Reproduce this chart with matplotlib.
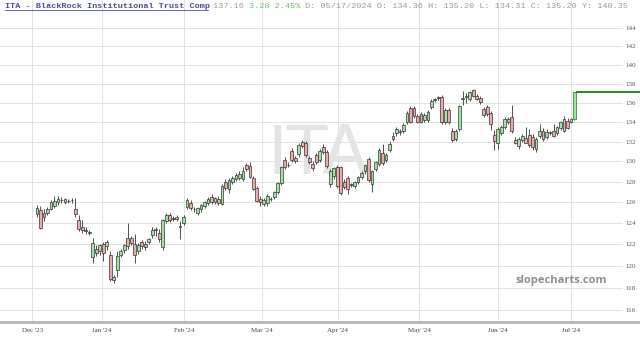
import matplotlib
matplotlib.use("Agg")
import matplotlib.pyplot as plt
from matplotlib.lines import Line2D
from matplotlib.ticker import FixedLocator, FixedFormatter, NullLocator

# daily OHLC (Dec '23 - Jul '24)
opens = [124.9, 125.2, 125.0, 125.0, 125.3, 125.6, 126.0, 126.2, 126.3, 126.1, 126.2, 125.3, 124.3, 123.6,
         123.3, 123.1, 120.8, 121.6, 121.4, 122.0, 121.8, 121.0, 118.7, 119.6, 121.0, 121.5, 122.6, 122.6,
         122.0, 121.4, 122.2, 122.0, 122.2, 122.9,
         123.3, 123.1, 121.7, 124.2, 124.8, 124.5, 124.4, 123.7, 124.0, 125.5, 125.9, 125.3, 125.0, 125.3,
         125.6, 125.9, 126.5, 126.0, 126.3, 125.8, 128.0, 127.3, 128.0, 128.3, 128.4, 128.3, 129.6, 129.5,
         128.4, 127.4, 126.3, 125.8, 125.9, 126.3, 126.5, 127.0, 127.9, 130.1, 129.6, 131.0, 130.3, 130.7,
         132.0, 131.8, 130.3, 129.7, 130.6, 130.1, 131.4, 130.9, 127.8, 128.6, 129.4, 129.4, 128.0, 128.4,
         127.7, 127.6, 128.0, 128.5, 129.0, 130.2, 127.8, 129.2, 129.7, 130.8, 130.1, 131.1, 132.6, 132.9,
         133.0, 133.1, 134.0, 135.4, 135.4, 134.6, 134.8, 134.2, 134.2, 135.5, 136.3, 136.5, 136.6, 134.0,
         135.2, 133.1, 132.3, 133.3, 136.4, 136.6, 136.4, 137.3, 136.7, 136.5, 135.3, 135.5, 134.9, 132.7,
         131.8, 132.9, 133.5, 134.3, 134.5, 132.2, 131.5, 132.2, 132.4, 132.7, 132.5, 131.2, 132.6, 133.1,
         132.5, 132.9, 133.1, 132.9, 133.4, 134.3, 134.1, 134.0, 134.3]
highs = [125.7, 125.6, 125.3, 125.5, 126.2, 126.6, 126.6, 126.5, 126.4, 126.3, 126.4, 126.4, 124.8, 124.3,
         123.6, 123.3, 122.6, 121.9, 122.0, 122.2, 122.4, 121.4, 119.2, 121.4, 121.6, 122.0, 124.0, 122.8,
         123.0, 122.1, 122.4, 122.3, 122.6, 123.6,
         123.6, 123.4, 124.4, 125.0, 125.0, 124.7, 124.8, 124.2, 124.8, 126.4, 126.2, 125.5, 125.5, 125.8,
         126.1, 126.5, 126.8, 126.5, 126.6, 127.8, 128.3, 128.4, 128.6, 128.9, 129.0, 129.4, 129.8, 129.9,
         128.6, 127.6, 126.6, 126.4, 126.8, 126.5, 127.1, 128.0, 129.5, 130.4, 129.9, 131.3, 130.5, 131.8,
         132.2, 132.1, 130.5, 130.0, 130.8, 131.2, 131.7, 131.1, 129.2, 129.4, 129.6, 129.5, 128.3, 128.6,
         127.9, 128.1, 128.6, 129.0, 129.7, 130.4, 129.1, 130.0, 131.3, 131.7, 130.8, 132.1, 133.0, 133.5,
         133.3, 133.9, 135.1, 135.6, 135.6, 134.8, 135.0, 134.9, 135.2, 136.4, 136.5, 136.7, 136.8, 135.4,
         135.4, 133.4, 133.3, 135.8, 137.2, 137.0, 137.2, 137.4, 136.9, 136.7, 135.5, 135.7, 135.1, 133.2,
         133.5, 133.7, 134.5, 134.5, 135.7, 132.5, 132.5, 132.8, 133.5, 133.3, 132.8, 132.5, 133.8, 133.4,
         133.3, 133.1, 133.8, 133.6, 134.1, 134.6, 134.4, 134.4, 137.16]
lows = [124.6, 123.4, 124.2, 124.8, 125.2, 125.4, 125.7, 125.9, 125.8, 125.9, 125.9, 124.6, 123.2, 123.1,
        123.0, 122.9, 120.3, 120.9, 121.0, 120.4, 121.5, 118.6, 118.4, 119.0, 120.8, 121.2, 121.6, 121.9,
        120.3, 121.1, 121.6, 121.5, 122.0, 122.6,
        122.8, 122.2, 121.5, 124.0, 124.1, 124.2, 124.2, 122.5, 123.8, 125.3, 125.2, 125.1, 124.8, 125.1,
        125.4, 125.7, 125.8, 125.8, 125.7, 125.7, 127.2, 126.9, 127.8, 128.1, 128.2, 128.1, 129.0, 128.4,
        127.2, 126.0, 125.6, 125.6, 125.6, 126.1, 126.3, 126.8, 127.7, 129.2, 129.4, 129.9, 129.8, 130.4,
        131.3, 130.4, 129.7, 129.0, 129.7, 129.9, 130.7, 129.3, 127.5, 128.3, 127.4, 126.7, 127.3, 126.8,
        127.5, 127.4, 127.8, 128.3, 128.8, 128.0, 127.0, 129.0, 129.5, 129.6, 129.9, 130.9, 132.1, 132.6,
        132.7, 132.9, 133.8, 133.9, 134.4, 133.9, 133.9, 134.0, 134.0, 135.3, 136.1, 136.3, 133.8, 133.8,
        133.8, 132.0, 132.1, 133.1, 135.8, 136.0, 136.2, 136.6, 136.3, 135.9, 134.5, 134.6, 133.2, 131.1,
        131.2, 132.7, 133.3, 133.8, 132.9, 131.7, 131.2, 132.0, 131.8, 131.4, 131.1, 130.9, 132.4, 132.1,
        132.3, 132.7, 132.5, 132.7, 133.2, 133.0, 133.3, 133.9, 134.2]
closes = [125.4, 123.5, 124.6, 125.3, 126.0, 126.1, 126.3, 126.2, 126.0, 126.15, 126.2, 124.9, 123.4, 123.3,
          123.25, 123.1, 122.1, 121.2, 121.9, 121.2, 122.2, 118.8, 119.0, 120.9, 121.4, 121.9, 121.8, 122.1,
          121.0, 121.9, 121.8, 121.7, 122.5, 123.3,
          123.4, 122.5, 124.3, 124.8, 124.3, 124.4, 124.6, 123.6, 124.6, 126.2, 125.4, 125.3, 125.4, 125.7,
          126.0, 126.3, 126.0, 126.4, 125.9, 127.6, 127.4, 128.2, 128.4, 128.7, 128.8, 129.0, 129.2, 128.5,
          127.3, 126.1, 126.0, 126.2, 126.6, 126.3, 127.0, 127.9, 129.4, 129.4, 129.6, 130.1, 130.0, 131.6,
          131.5, 130.6, 129.9, 129.3, 129.9, 131.0, 130.9, 129.5, 129.0, 129.3, 127.6, 126.9, 127.5, 127.3,
          127.7, 128.0, 128.5, 128.9, 129.6, 128.2, 129.0, 129.9, 131.1, 129.8, 130.6, 131.7, 132.3, 133.3,
          133.0, 133.7, 134.9, 134.0, 134.6, 134.0, 134.0, 134.7, 135.0, 136.2, 136.3, 136.5, 134.0, 135.2,
          134.0, 132.2, 133.1, 135.6, 136.4, 136.6, 137.1, 136.7, 136.4, 136.1, 134.7, 134.8, 133.8, 132.1,
          133.3, 133.5, 134.3, 134.0, 133.1, 131.8, 132.3, 132.6, 131.9, 131.6, 131.4, 132.3, 133.1, 132.3,
          133.0, 132.9, 132.6, 133.5, 134.0, 133.1, 133.4, 134.3, 137.16]

month_labels = ["Dec '23", "Jan '24", "Feb '24", "Mar '24", "Apr '24", "May '24", "Jun '24", "Jul '24"]
month_pos = [-1.4, 18.6, 42.1, 64.5, 86.2, 109.5, 132.1, 153.0]
price_ticks = list(range(116, 146, 2))

last_price = 137.16
header = [("ITA - BlackRock Institutional Trust Comp", "#4a4aa8", "bold"),
          (" 137.16", "#9a9a9a", "normal"),
          (" 3.28 2.45%", "#6cbf6c", "normal"),
          (" D: 05/17/2024 O: 134.36 H: 135.20 L: 134.31 C: 135.20 Y: 140.35", "#9a9a9a", "normal")]

W, H = 640, 341
bottom_px = 322
fig = plt.figure(figsize=(W / 100, H / 100), dpi=100)
ax = fig.add_axes([0, (H - bottom_px) / H, 623 / W, bottom_px / H])

n = len(closes)
xs = list(range(n))
up = [c >= o for o, c in zip(opens, closes)]
body_lo = [min(o, c) for o, c in zip(opens, closes)]
body_h = [max(abs(c - o), 0.04) for o, c in zip(opens, closes)]
fills = ["#9fe59f" if u else "#f0a9a9" for u in up]

# watermark behind the candles
ax.text(0.51, 0.52, "ITA", transform=ax.transAxes, fontsize=48, color="#e4e4e4",
        ha="center", va="center", family="DejaVu Sans", zorder=0)

ax.vlines(xs, lows, highs, color="#333333", lw=0.6, zorder=2)
edges = ["#333333"] * (n - 1) + ["#1f7a1f"]
ax.bar(xs, body_h, bottom=body_lo, width=0.8, color=fills, edgecolor=edges, linewidth=0.5, zorder=3)

# last price line running off to the right edge
ax.plot([n - 1 + 0.4, n + 30], [last_price, last_price], color="#228b22", lw=1.4,
        clip_on=False, zorder=4, solid_capstyle="butt")

ax.set_yscale("log")
ax.set_ylim(114.94, 147.13)
ax.set_xlim(-10.6, 167.9)
ax.yaxis.set_major_locator(FixedLocator(price_ticks))
ax.yaxis.set_major_formatter(FixedFormatter([str(p) for p in price_ticks]))
ax.yaxis.set_minor_locator(NullLocator())
ax.yaxis.tick_right()
ax.set_xticks(month_pos)
ax.set_xticklabels(month_labels)
ax.tick_params(axis="y", length=0, pad=2, labelsize=5, labelcolor="#555555")
ax.tick_params(axis="x", length=0, pad=4, labelsize=5, labelcolor="#444444")
for lab in ax.get_xticklabels() + ax.get_yticklabels():
    lab.set_family("Liberation Serif")
ax.grid(True, color="#e2e2e2", lw=0.7)
ax.set_axisbelow(True)
for s in ax.spines.values():
    s.set_visible(False)

fig.add_artist(Line2D([0, 1], [(H - bottom_px) / H] * 2, color="#b4b4b4", lw=2))

fig.text(607 / W, 1 - 281 / H, "slopecharts.com", ha="right", va="center", fontsize=8,
         weight="bold", color="#8c8c8c", family="Open Sans")

# header line, monospace segments
cw = 5.08
x0 = 5
count = 0
for txt, col, wt in header:
    fig.text((x0 + count * cw) / W, 1 - 6 / H, txt, fontsize=6.1, family="Liberation Mono",
             color=col, weight=wt, ha="left", va="center")
    count += len(txt)
fig.add_artist(Line2D([x0 / W, (x0 + 40 * cw) / W], [1 - 10 / H, 1 - 10 / H], color="#4a4aa8", lw=0.6))

fig.savefig("out.png", dpi=100)
